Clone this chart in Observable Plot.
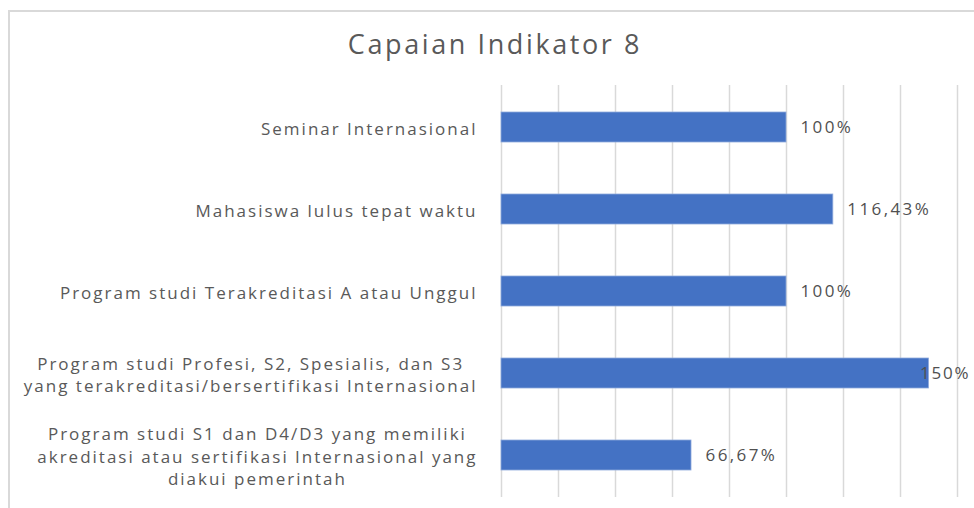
<!DOCTYPE html>
<html>
<head>
<meta charset="utf-8">
<script src="https://cdn.jsdelivr.net/npm/d3@7"></script>
<script src="https://cdn.jsdelivr.net/npm/@observablehq/plot@0.6"></script>
<style>
  html, body { margin: 0; padding: 0; background: #fff; }
  #wrap { position: relative; width: 974px; height: 508px; overflow: hidden; }
  #frame { position: absolute; left: 8px; top: 10px; width: 1000px; height: 600px;
           border-left: 2px solid #d9d9d9; border-top: 2px solid #d9d9d9; }
  #title { position: absolute; left: 0; top: 25px; width: 990px; text-align: center;
           font-family: "Open Sans", sans-serif; font-size: 27px; color: #595959; letter-spacing: 2.6px; }
  #chart { position: absolute; left: 0; top: 0; }
</style>
</head>
<body>
<div id="wrap">
  <div id="frame"></div>
  <div id="title">Capaian Indikator 8</div>
  <div id="chart"></div>
</div>
<script>
const categories = [
  "Seminar Internasional",
  "Mahasiswa lulus tepat waktu",
  "Program studi Terakreditasi A atau Unggul",
  "Program studi Profesi, S2, Spesialis, dan S3\nyang terakreditasi/bersertifikasi Internasional",
  "Program studi S1 dan D4/D3 yang memiliki\nakreditasi atau sertifikasi Internasional yang\ndiakui pemerintah"
];
const values = [1.00, 1.1643, 1.00, 1.50, 0.6667];
const valueLabels = ["100%", "116,43%", "100%", "150%", "66,67%"];
const xTicks = [0, 0.2, 0.4, 0.6, 0.8, 1.0, 1.2, 1.4, 1.6];

const data = categories.map((c, i) => ({category: c, value: values[i], label: valueLabels[i]}));

const labelFont = {fontFamily: "Open Sans, sans-serif", fontSize: 17, fill: "#595959"};

const plot = Plot.plot({
  width: 974,
  height: 508,
  marginLeft: 501,
  marginRight: 17,
  marginTop: 85,
  marginBottom: 11,
  style: {background: "transparent", overflow: "visible"},
  x: {domain: [0, 1.6], axis: null},
  y: {domain: categories, paddingInner: 0.635, paddingOuter: 0.3175, axis: null},
  marks: [
    Plot.ruleX(xTicks, {stroke: "#d9d9d9", strokeWidth: 1.5}),
    Plot.barX(data, {x: "value", y: "category", fill: "#4472c4", stroke: "#8faadc", strokeWidth: 0.8}),
    Plot.text(data.filter(d => d.value <= 1.4), {
      x: "value", y: "category", text: "label", textAnchor: "start", dx: 14,
      ...labelFont, fill: "#505050", className: "vals"
    }),
    Plot.text(data.filter(d => d.value > 1.4), {
      x: "value", y: "category", text: "label", textAnchor: "start", dx: -9,
      ...labelFont, fill: "#505050", className: "vals vals-edge"
    }),
    Plot.text(data, {
      y: "category", text: "category", frameAnchor: "left", textAnchor: "end",
      dx: -24, lineHeight: 1.3, ...labelFont, className: "cats"
    })
  ]
});
document.getElementById("chart").appendChild(plot);

// letter spacing for wide label look
plot.querySelectorAll(".cats text").forEach(t => t.setAttribute("letter-spacing", "2"));
plot.querySelectorAll(".vals text").forEach(t => t.setAttribute("letter-spacing", "2.4"));
plot.querySelectorAll(".vals-edge text").forEach(t => t.setAttribute("letter-spacing", "1.8"));

// center multi-line category labels within their block, keeping the block right-aligned
plot.querySelectorAll(".cats text").forEach(t => {
  const b = t.getBBox();
  const right = b.x + b.width;
  const center = right - b.width / 2;
  t.setAttribute("text-anchor", "middle");
  const tspans = t.querySelectorAll("tspan");
  const xAttr = t.getAttribute("x");
  if (xAttr !== null) {
    const shift = center - right;
    t.setAttribute("x", +xAttr + shift);
    tspans.forEach(s => { if (s.getAttribute("x") !== null) s.setAttribute("x", +s.getAttribute("x") + shift); });
  } else {
    const shift = -b.width / 2;
    tspans.forEach(s => s.setAttribute("x", (+s.getAttribute("x") || 0) + shift));
    if (!tspans.length) t.setAttribute("x", shift);
  }
});
</script>
</body>
</html>
